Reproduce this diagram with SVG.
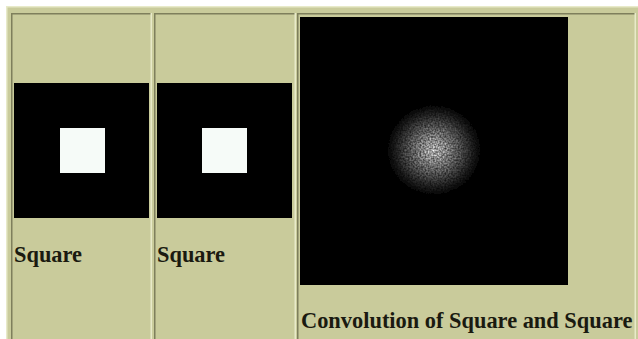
<svg xmlns="http://www.w3.org/2000/svg" width="638" height="339" viewBox="0 0 638 339">
<style>
.bg{fill:#c9cb9b}
.dk{stroke:#7e7f5c;stroke-width:1.5;fill:none}
.lt{stroke:#e8eac9;stroke-width:1.5;fill:none}
.img{fill:#000}
.sq{fill:#f6fbf8}
.lbl{font-family:"Liberation Serif","Times New Roman",serif;font-weight:bold;font-size:22.4px;fill:#1a1a10}
</style>
<defs>
<radialGradient id="blob" cx="0.5" cy="0.5" r="0.5">
<stop offset="0" stop-color="#ffffff"/>
<stop offset="0.2" stop-color="#d0d0d0"/>
<stop offset="0.5" stop-color="#7a7a7a"/>
<stop offset="0.8" stop-color="#2a2a2a"/>
<stop offset="1" stop-color="#000000"/>
</radialGradient>
<filter id="noise" x="0" y="0" width="1" height="1">
<feTurbulence type="fractalNoise" baseFrequency="0.6" numOctaves="1" seed="3" result="t"/>
<feColorMatrix in="t" type="matrix" values="0 0 0 0 0  0 0 0 0 0  0 0 0 0 0  0 0 0 -1.2 1.25" result="m"/>
<feComposite in="SourceGraphic" in2="m" operator="in"/>
</filter>
</defs>
<rect x="0" y="0" width="638" height="339" fill="#ffffff"/>
<g id="table">
<rect class="bg" x="6" y="6" width="632" height="333"/>
<path class="lt" d="M6.75 339V6.75H638"/>
</g>
<g id="cell-square-1">
<path class="dk" d="M11.75 339V13.75H151"/>
<path class="lt" d="M151.25 13V339"/>
<rect class="img" x="14" y="83" width="135" height="135"/>
<rect class="sq" x="60" y="128" width="45" height="45"/>
<text class="lbl" x="14" y="262">Square</text>
</g>
<g id="cell-square-2">
<path class="dk" d="M154.75 339V13.75H295"/>
<path class="lt" d="M295.25 13V339"/>
<rect class="img" x="157" y="83" width="135" height="135"/>
<rect class="sq" x="202" y="128" width="45" height="45"/>
<text class="lbl" x="157" y="262">Square</text>
</g>
<g id="cell-convolution">
<path class="dk" d="M297.75 339V13.75H635"/>
<path class="lt" d="M635.25 13V339"/>
<rect class="img" x="300" y="17" width="268" height="268"/>
<rect x="386" y="104" width="96" height="92" fill="url(#blob)" filter="url(#noise)"/>
<text class="lbl" x="301" y="328">Convolution of Square and Square</text>
</g>
</svg>
